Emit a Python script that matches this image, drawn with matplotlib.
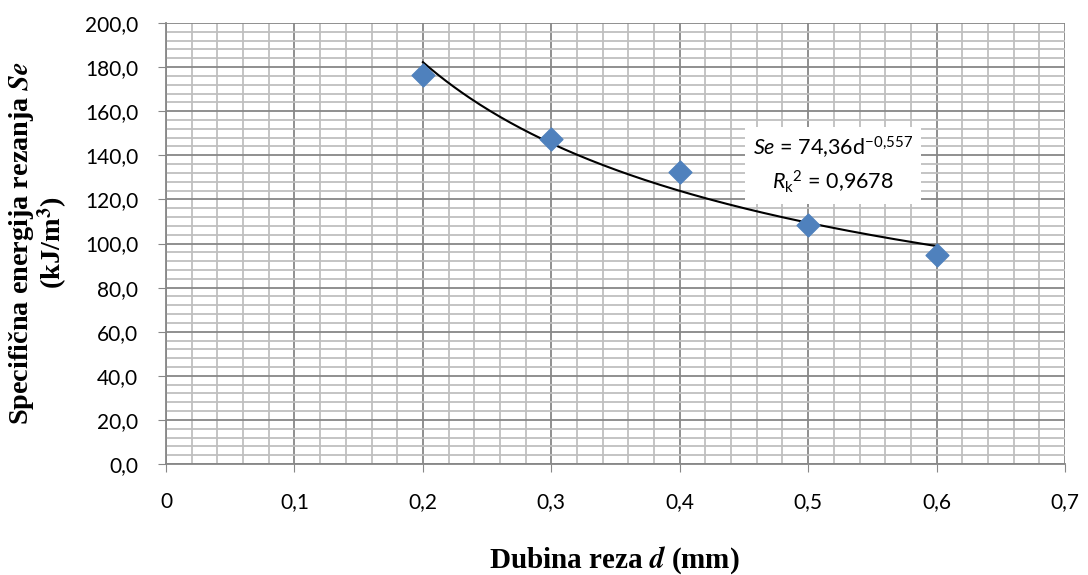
import numpy as np
import matplotlib.pyplot as plt
from matplotlib.ticker import MultipleLocator, FuncFormatter

plt.rcParams['mathtext.fontset'] = 'custom'
plt.rcParams['mathtext.rm'] = 'Lato'
plt.rcParams['mathtext.it'] = 'Lato:italic'
plt.rcParams['mathtext.bf'] = 'Lato:bold'

# measured points
depth = [0.2, 0.3, 0.4, 0.5, 0.6]
energy = [176.3, 147.3, 132.4, 108.6, 94.6]

# power trendline from the chart label
coef = 74.36
expo = -0.557

fig = plt.figure(figsize=(10.88, 5.75), dpi=100)
ax = fig.add_axes([0.1526, 0.193, 0.8263, 0.767])

ax.set_xlim(0, 0.7)
ax.set_ylim(0, 200)
ax.xaxis.set_major_locator(MultipleLocator(0.1))
ax.xaxis.set_minor_locator(MultipleLocator(0.02))
ax.yaxis.set_major_locator(MultipleLocator(20))
ax.yaxis.set_minor_locator(MultipleLocator(4))
ax.grid(which='minor', color='#bfbfbf', lw=1.3)
ax.grid(which='major', color='#878787', lw=1.3)
ax.set_axisbelow(True)

ax.xaxis.set_major_formatter(FuncFormatter(lambda v, p: '0' if abs(v) < 1e-9 else f'{v:.1f}'.replace('.', ',')))
ax.yaxis.set_major_formatter(FuncFormatter(lambda v, p: f'{v:.1f}'.replace('.', ',')))
ax.tick_params(which='major', direction='out', length=6, color='#878787', labelsize=15, pad=14)
ax.tick_params(which='minor', length=0)
for lbl in ax.get_xticklabels() + ax.get_yticklabels():
    lbl.set_family('Lato')

for s in ['top', 'right']:
    ax.spines[s].set_visible(False)
for s in ['left', 'bottom']:
    ax.spines[s].set_color('#878787')
    ax.spines[s].set_linewidth(1.3)

xs = np.linspace(min(depth), max(depth), 200)
ax.plot(xs, coef * xs ** expo, color='black', lw=1.5, zorder=3)
ax.scatter(depth, energy, marker='D', s=135, color='#4f81bd', zorder=4, clip_on=False)

ax.text(0.5194, 135.6, r'$\mathit{Se}$ = 74,36d$^{\mathrm{-0{,}557}}$' + '\n' + r'$\mathit{R}_{\mathrm{k}}{}^{2}$ = 0,9678',
        ha='center', va='center', fontsize=15.5, family='Lato', linespacing=1.4,
        bbox=dict(facecolor='white', edgecolor='none', pad=6), zorder=5)

fig.text(0.565, 0.026, r'Dubina reza $\boldsymbol{d}$ (mm)', ha='center', va='center',
         fontsize=21, family='Liberation Serif', fontweight='bold', math_fontfamily='stix')
fig.text(0.035, 0.578, 'Specifična energija rezanja $\\boldsymbol{Se}$\n(kJ/m$^\\mathbf{3}$)',
         ha='center', va='center', rotation=90, fontsize=20.3, family='Liberation Serif',
         fontweight='bold', linespacing=1.0, math_fontfamily='stix')

fig.savefig('out.png', dpi=100)
